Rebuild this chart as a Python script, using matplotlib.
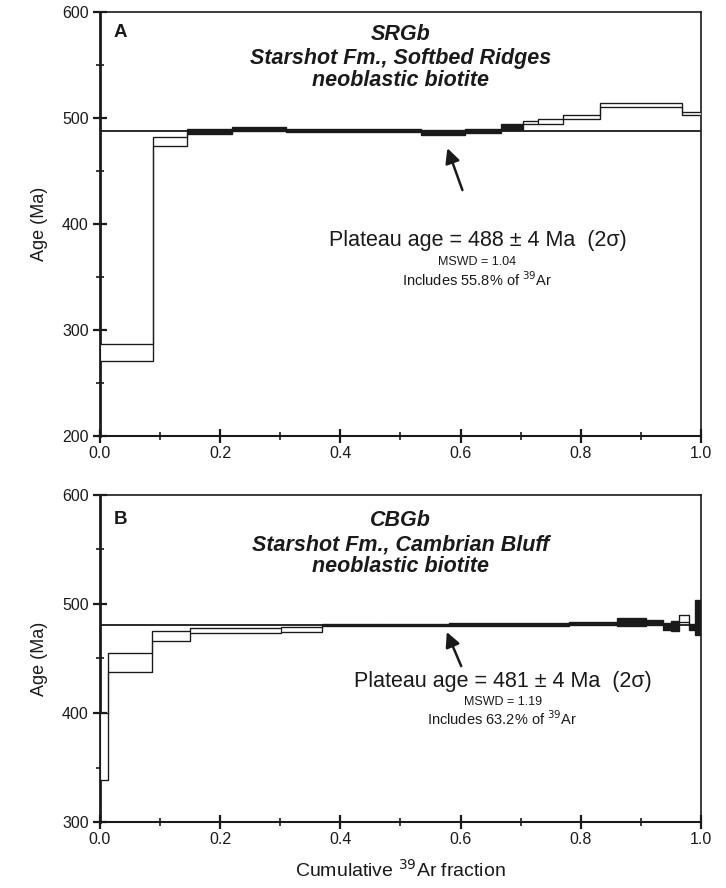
import matplotlib

matplotlib.use("Agg")
import matplotlib.pyplot as plt  # noqa: E402
from matplotlib.patches import Rectangle  # noqa: E402

plt.rcParams["font.family"] = ["Liberation Sans", "DejaVu Sans"]

# Panel A: SRGb step heating spectrum (cumulative 39Ar start/end, age box low/high)
a_x0 = [0.000, 0.089, 0.144, 0.219, 0.310, 0.425, 0.534, 0.608, 0.667, 0.703, 0.728, 0.771, 0.832, 0.968]
a_x1 = [0.089, 0.144, 0.219, 0.310, 0.425, 0.534, 0.608, 0.667, 0.703, 0.728, 0.771, 0.832, 0.968, 1.000]
a_lo = [271.0, 474.0, 485.0, 487.5, 486.5, 486.5, 484.3, 485.6, 488.7, 494.3, 494.5, 499.5, 510.3, 503.0]
a_hi = [287.0, 482.4, 489.2, 491.6, 489.3, 489.3, 488.7, 489.3, 494.3, 497.5, 499.3, 502.6, 513.9, 505.9]
a_plat = [False, False, True, True, True, True, True, True, True, False, False, False, False, False]

# Panel B: CBGb
b_x0 = [0.000, 0.0128, 0.087, 0.1506, 0.301, 0.369, 0.470, 0.580, 0.680, 0.780, 0.861, 0.908, 0.936, 0.950, 0.964, 0.980, 0.990]
b_x1 = [0.0128, 0.087, 0.1506, 0.301, 0.369, 0.470, 0.580, 0.680, 0.780, 0.861, 0.908, 0.936, 0.950, 0.964, 0.980, 0.990, 1.000]
b_lo = [339.0, 437.3, 466.3, 473.1, 474.6, 479.5, 479.6, 480.0, 480.2, 480.7, 479.8, 480.5, 476.1, 475.5, 483.8, 476.0, 471.6]
b_hi = [400.3, 454.8, 475.2, 477.7, 479.2, 482.0, 482.0, 482.4, 483.0, 483.8, 486.9, 485.5, 482.3, 484.7, 490.0, 482.0, 503.7]
b_plat = [False, False, False, False, False, True, True, True, True, True, True, True, True, True, False, True, True]

panels = [
    dict(letter="A", x0=a_x0, x1=a_x1, lo=a_lo, hi=a_hi, plat=a_plat,
         plateau=488, ylim=(200, 600), yticks=[200, 300, 400, 500, 600],
         title=["SRGb", "Starshot Fm., Softbed Ridges", "neoblastic biotite"],
         title_y=[0.946, 0.891, 0.838], letter_y=0.972,
         age_text="Plateau age = 488 \u00b1 4 Ma  (2\u03c3)", mswd="MSWD = 1.04",
         incl="Includes 55.8% of $^{39}$Ar", arrow_tip=(0.578, 471.5), arrow_tail=(0.603, 432.0),
         text_x=0.628, text_y=[384.0, 364.5, 347.5]),
    dict(letter="B", x0=b_x0, x1=b_x1, lo=b_lo, hi=b_hi, plat=b_plat,
         plateau=481, ylim=(300, 600), yticks=[300, 400, 500, 600],
         title=["CBGb", "Starshot Fm., Cambrian Bluff", "neoblastic biotite"],
         title_y=[0.9225, 0.847, 0.781], letter_y=0.951,
         age_text="Plateau age = 481 \u00b1 4 Ma  (2\u03c3)", mswd="MSWD = 1.19",
         incl="Includes 63.2% of $^{39}$Ar", arrow_tip=(0.577, 474.3), arrow_tail=(0.601, 443.0),
         text_x=0.67, text_y=[428.5, 410.0, 394.5]),
]

INK = "#1a1a1a"

fig = plt.figure(figsize=(7.26, 8.88), dpi=100)
boxes = [[0.1377, 0.509, 0.8279, 0.4775], [0.1377, 0.0743, 0.8279, 0.3683]]

for p, box in zip(panels, boxes):
    ax = fig.add_axes(box)
    ax.set_xlim(0, 1)
    ax.set_ylim(*p["ylim"])
    # filled boxes for plateau steps, white for the rest
    for x0, x1, lo, hi, pl in zip(p["x0"], p["x1"], p["lo"], p["hi"], p["plat"]):
        ax.add_patch(Rectangle((x0, lo), x1 - x0, hi - lo,
                               facecolor=INK if pl else "white",
                               edgecolor=INK, lw=0.8, zorder=3))
    # connected staircase outline of the spectrum
    edges = p["x0"] + [p["x1"][-1]]
    ax.stairs(p["hi"], edges, baseline=None, color=INK, lw=0.9, zorder=3)
    ax.stairs(p["lo"], edges, baseline=None, color=INK, lw=0.9, zorder=3)
    ax.axhline(p["plateau"], color=INK, lw=1.3, zorder=4)

    ax.set_yticks(p["yticks"])
    ax.set_yticks(range(p["ylim"][0] + 50, p["ylim"][1], 100), minor=True)
    ax.set_xticks([0, 0.2, 0.4, 0.6, 0.8, 1.0])
    ax.set_xticks([0.1, 0.3, 0.5, 0.7, 0.9], minor=True)
    ax.set_xticklabels(["0.0", "0.2", "0.4", "0.6", "0.8", "1.0"])
    ax.tick_params(which="major", direction="inout", length=10, width=1.6,
                   labelsize=11.5, colors=INK, pad=3)
    ax.tick_params(which="minor", direction="inout", length=6, width=1.2, colors=INK)
    ax.tick_params(axis="x", which="major", pad=2)
    for side in ["top", "right"]:
        ax.spines[side].set_linewidth(1.2)
    ax.spines["left"].set_linewidth(2.0)
    ax.spines["bottom"].set_linewidth(1.5)
    for s in ax.spines.values():
        s.set_color(INK)
    ax.set_ylabel("Age (Ma)", fontsize=13, color=INK, labelpad=10)

    ax.text(0.023, p["letter_y"], p["letter"], transform=ax.transAxes, fontsize=13.5,
            fontweight="bold", color=INK, va="top", ha="left")
    for line, yy in zip(p["title"], p["title_y"]):
        ax.text(0.5, yy, line, transform=ax.transAxes, fontsize=15.5, fontweight="bold",
                fontstyle="italic", color=INK, ha="center", va="center")

    ax.annotate("", xy=p["arrow_tip"], xytext=p["arrow_tail"],
                arrowprops=dict(arrowstyle="-|>", color=INK, lw=1.8, mutation_scale=22,
                                shrinkA=0, shrinkB=0), zorder=5)
    tx = p["text_x"]
    ax.text(tx, p["text_y"][0], p["age_text"], fontsize=15.5, color=INK, ha="center", va="center")
    ax.text(tx, p["text_y"][1], p["mswd"], fontsize=9, color=INK, ha="center", va="center")
    ax.text(tx, p["text_y"][2], p["incl"], fontsize=10.5, color=INK, ha="center", va="center")

    if p["letter"] == "B":
        ax.set_xlabel("Cumulative $^{39}$Ar fraction", fontsize=14, color=INK, labelpad=9)

fig.savefig("out.png", dpi=100)
